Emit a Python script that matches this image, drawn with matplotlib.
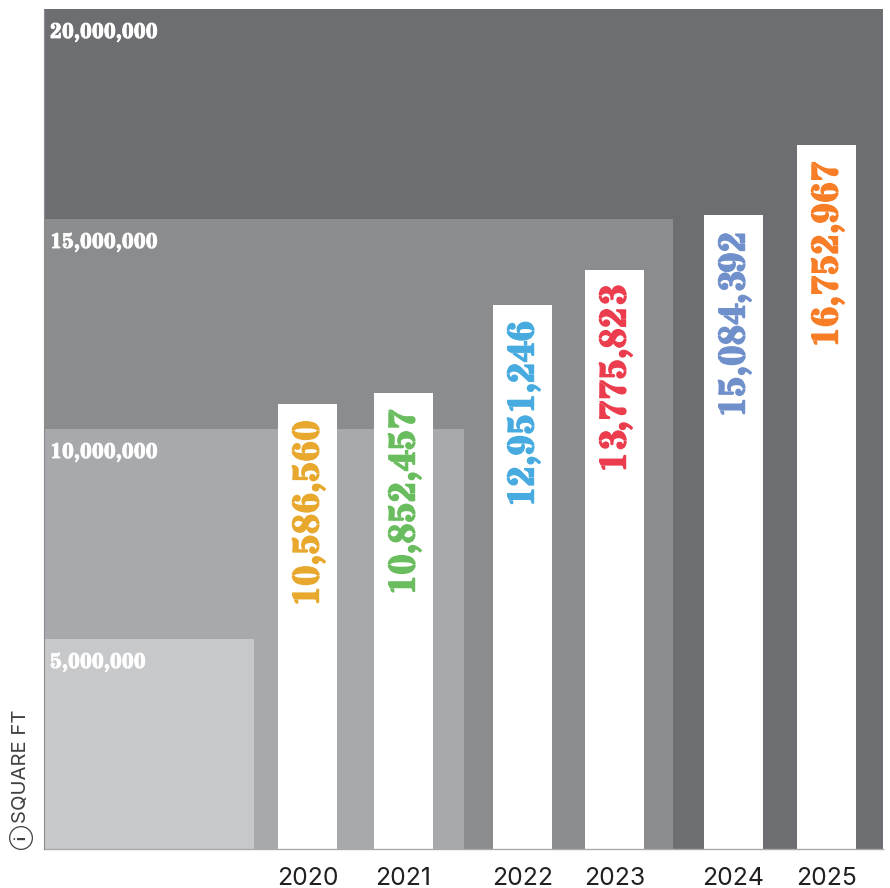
import matplotlib
matplotlib.use('Agg')
import matplotlib.pyplot as plt
from matplotlib import patheffects as pe
from matplotlib.patches import Rectangle

years = ['2020', '2021', '2022', '2023', '2024', '2025']
square_ft = [10586560, 10852457, 12951246, 13775823, 15084392, 16752967]
bar_colors = ['#E8A82E', '#6ABD5F', '#48ABE0', '#EC3D4E', '#7090CB', '#F77D26']

band_values = [20000000, 15000000, 10000000, 5000000]
band_labels = ['20,000,000', '15,000,000', '10,000,000', '5,000,000']
band_colors = ['#6D6E71', '#8A8C8E', '#A7A9AC', '#C7C8CA']

# years come in pairs, so the bars are not evenly spaced
bar_pos = [263.5, 359.5, 478.5, 570.5, 689.5, 782.5]
bar_width = 59
band_width = {20000000: 839, 15000000: 629, 10000000: 420, 5000000: 210}

stencil = ['Stardos Stencil', 'Liberation Serif']
plain = 'Inter'

W, H = 890, 888
fig = plt.figure(figsize=(W / 100, H / 100), dpi=100, facecolor='white')
ax = fig.add_axes([44 / W, 1 - 849 / H, 839 / W, 840 / H])
ax.set_xlim(0, 839)
ax.set_ylim(0, 20000000)
ax.set_facecolor('white')
for s in ax.spines.values():
    s.set_visible(False)

# nested grey bands, biggest one first
for v, lab, c in zip(band_values, band_labels, band_colors):
    ax.add_patch(Rectangle((0, 0), band_width[v], v, facecolor=c, edgecolor='none', zorder=1))
    ax.annotate(lab, (0, v), xytext=(6, -23), textcoords='offset pixels', color='white',
                family=stencil, weight='bold', size=15.3, va='center', ha='left', zorder=2,
                path_effects=[pe.withStroke(linewidth=0.6, foreground='white')])

bars = ax.bar(bar_pos, square_ft, width=bar_width, color='white', edgecolor='none', zorder=3)

for b, val, c in zip(bars, square_ft, bar_colors):
    x = b.get_x() + b.get_width() / 2
    ax.annotate(f'{val:,}', (x, val), xytext=(1, -16), textcoords='offset pixels', color=c,
                family=stencil, weight='bold', size=26.5, rotation=90, va='top', ha='center',
                zorder=4, path_effects=[pe.withStroke(linewidth=1.0, foreground=c)])

ax.axhline(0, color='#A7A9AC', lw=1, zorder=5, clip_on=False)
ax.axvline(0, color='#8A8C8E', lw=0.8, zorder=5, clip_on=False)

ax.set_xticks(bar_pos)
ax.set_xticklabels(years, family=plain, size=17.8, color='#231F20')
ax.tick_params(axis='x', length=0, pad=13)
ax.set_yticks([])

# unit label on the left, with the little info mark under it
fig.text(21 / W, 1 - 823 / H, 'SQUARE FT', rotation=90, family=plain, size=14.6,
         color='#414042', ha='center', va='bottom')
fig.text(21 / W, 1 - 838 / H, 'i', rotation=90, family=plain, size=10.5, weight='bold',
         color='#414042', ha='center', va='center',
         bbox=dict(boxstyle='circle,pad=0.3', facecolor='none', edgecolor='#414042', lw=0.9))

fig.savefig('out.png', dpi=100)
